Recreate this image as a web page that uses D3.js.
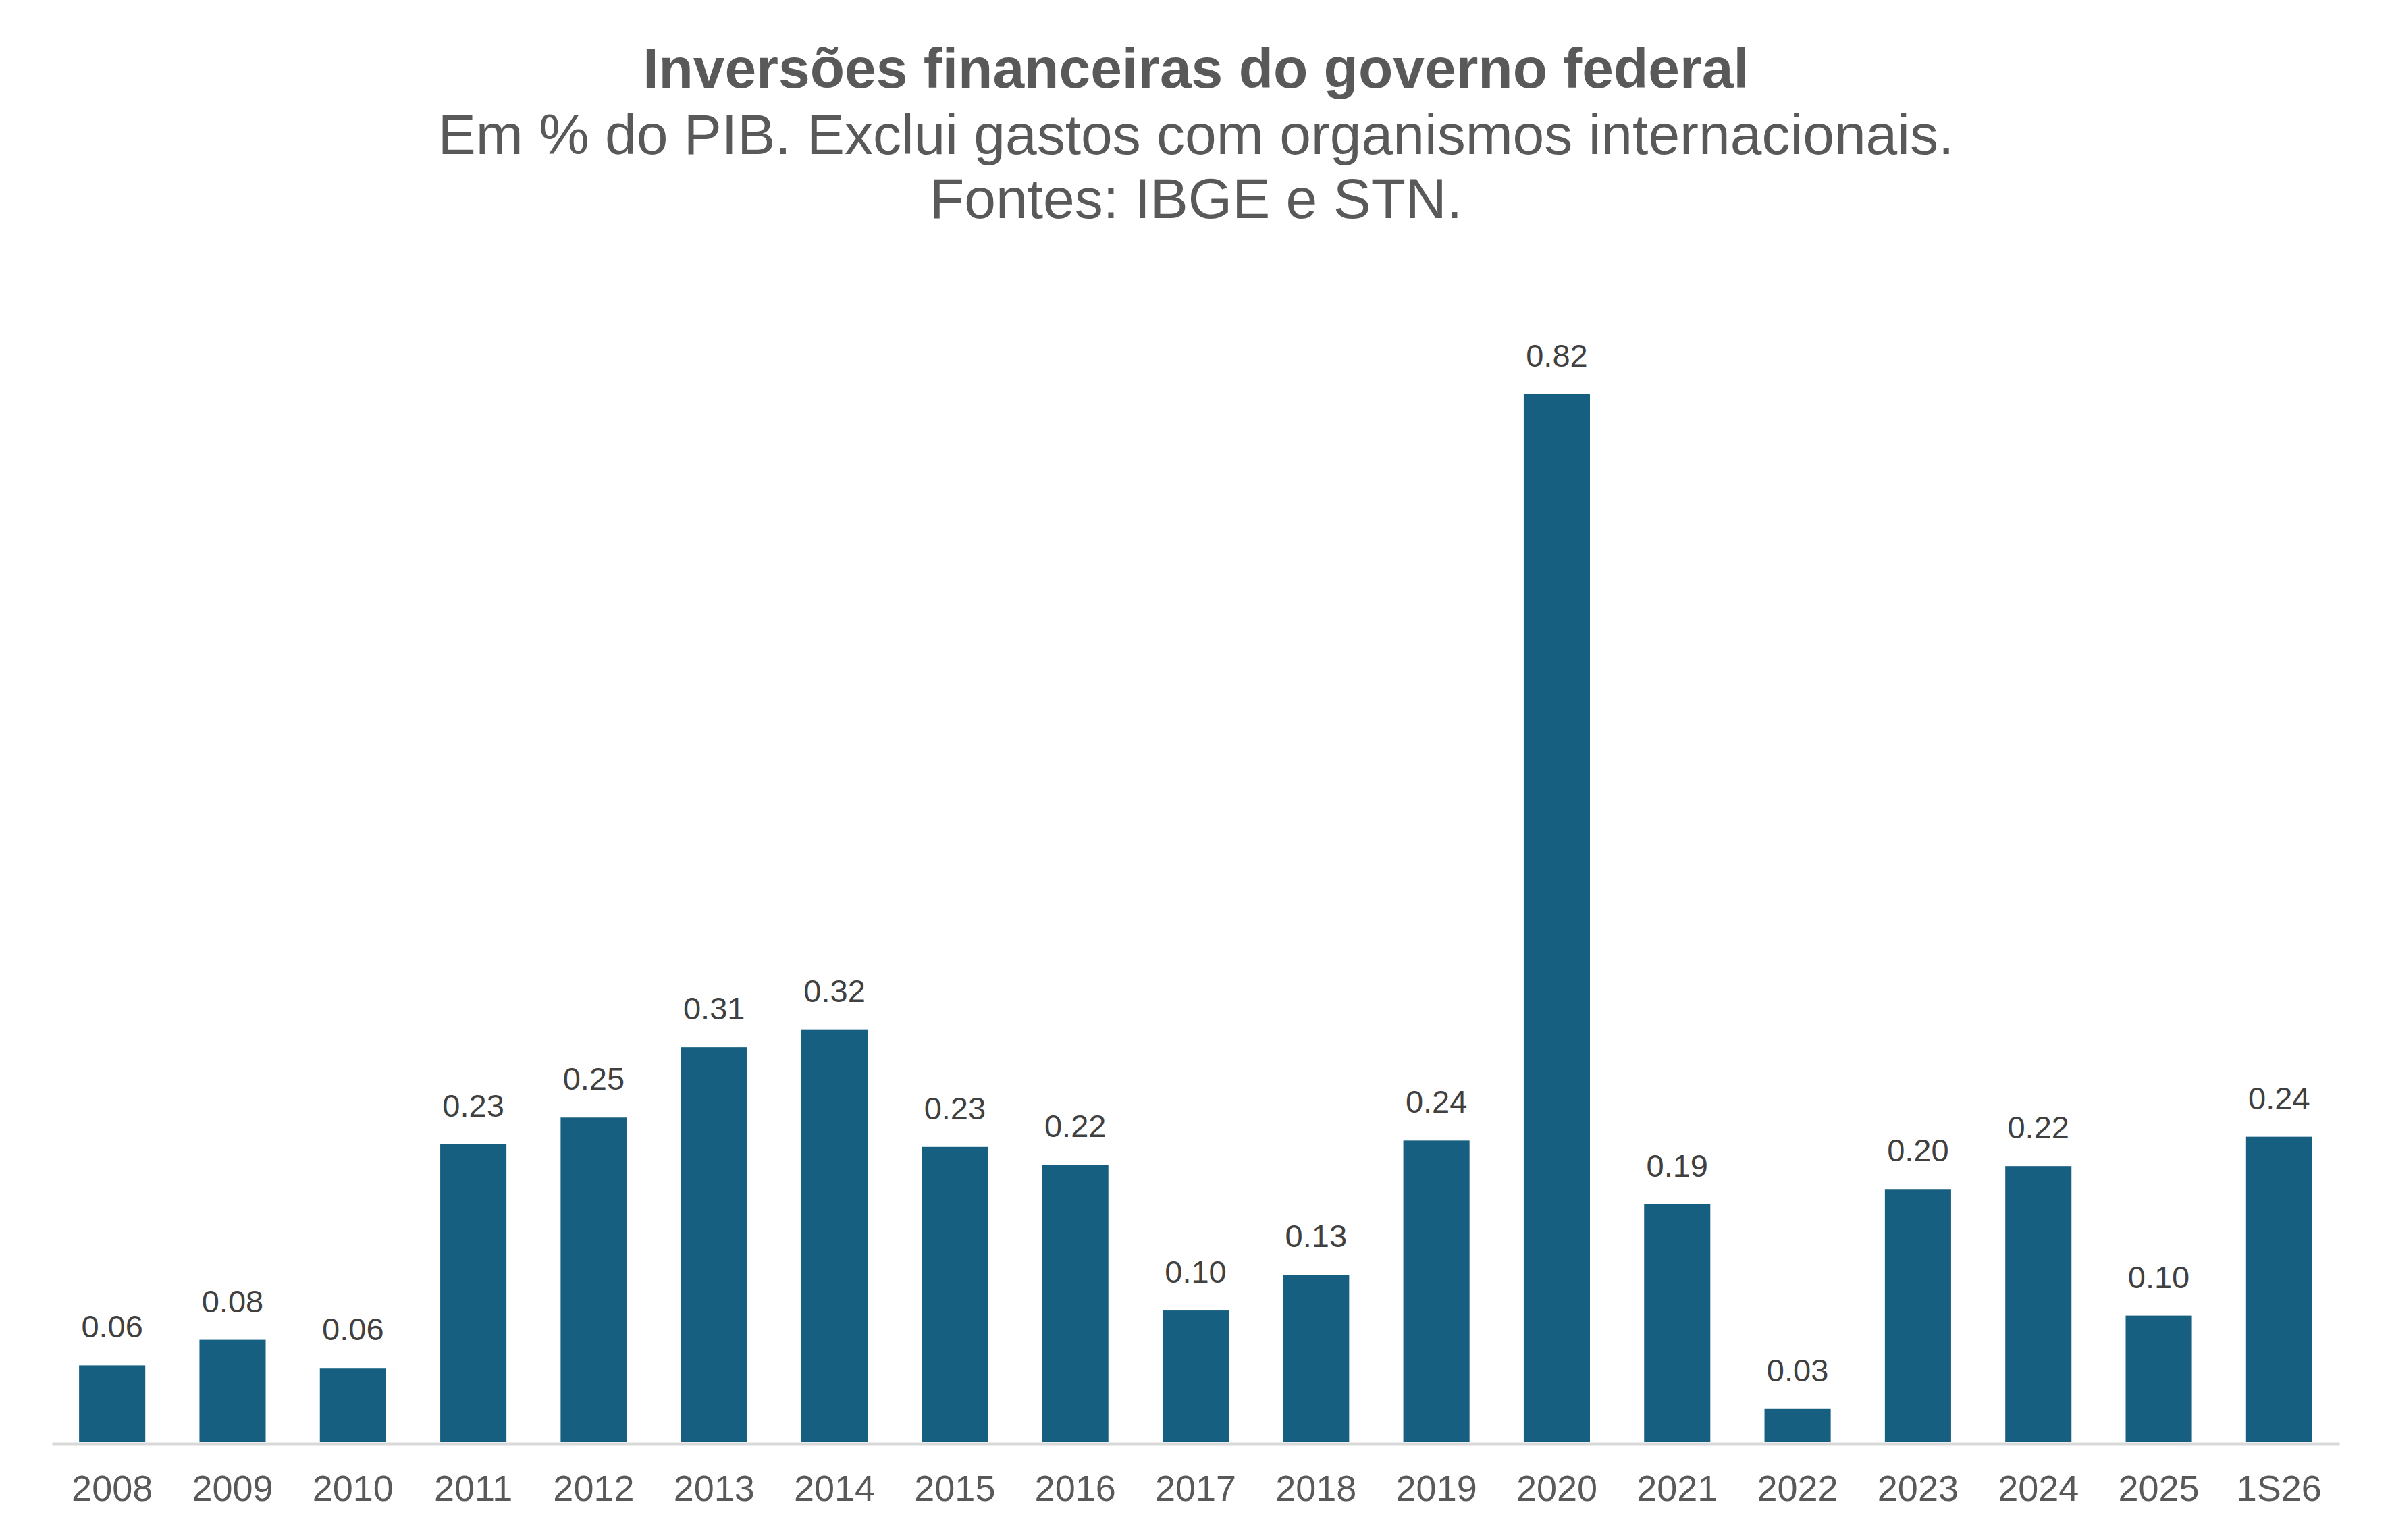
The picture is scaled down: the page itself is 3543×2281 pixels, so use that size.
<!DOCTYPE html>
<html>
<head>
<meta charset="utf-8">
<script src="https://cdn.jsdelivr.net/npm/d3@7"></script>
<style>
  html, body { margin: 0; padding: 0; background: #ffffff; }
  svg { display: block; }
  text { font-family: "Liberation Sans", Arial, sans-serif; }
</style>
</head>
<body>
<svg id="chart" width="3543" height="2281"></svg>
<script>
const categories = ["2008","2009","2010","2011","2012","2013","2014","2015","2016","2017","2018","2019","2020","2021","2022","2023","2024","2025","1S26"];
const values = [0.060,0.080,0.058,0.233,0.254,0.309,0.323,0.231,0.217,0.103,0.131,0.236,0.820,0.186,0.026,0.198,0.216,0.099,0.239];
const titleText = "Inversões financeiras do governo federal";
const subtitleLines = ["Em % do PIB. Exclui gastos com organismos internacionais.", "Fontes: IBGE e STN."];

const W = 3543, H = 2281;
const svg = d3.select("#chart");
svg.append("rect").attr("width", W).attr("height", H).attr("fill", "#ffffff");

const x = d3.scaleBand().domain(categories).range([77, 3465]).paddingInner(0.45).paddingOuter(0.225);
const y = d3.scaleLinear().domain([0, 0.82]).range([2136, 584]);

const data = categories.map((c, i) => ({ c, v: values[i] }));

// bars
svg.append("g").selectAll("rect").data(data).join("rect")
  .attr("x", d => x(d.c))
  .attr("y", d => y(d.v))
  .attr("width", x.bandwidth())
  .attr("height", d => y(0) - y(d.v))
  .attr("fill", "#175f80");

// axis
const xAxis = d3.axisBottom(x).tickSize(0).tickPadding(0);
const gx = svg.append("g").attr("transform", `translate(0,${y(0) + 2.5})`).call(xAxis);
gx.select(".domain").attr("stroke", "#d9d9d9").attr("stroke-width", 5);
gx.selectAll(".tick text")
  .attr("y", 84.5)
  .attr("dy", 0)
  .attr("fill", "#595959")
  .style("font-size", "54px")
  .style("font-family", "'Liberation Sans', Arial, sans-serif");

// data labels
svg.append("g").selectAll("text").data(data).join("text")
  .attr("x", d => x(d.c) + x.bandwidth() / 2)
  .attr("y", d => y(d.v) - 41)
  .attr("text-anchor", "middle")
  .attr("fill", "#404040")
  .style("font-size", "47px")
  .text(d => d3.format(".2f")(d.v));

// title
svg.append("text")
  .attr("x", W / 2).attr("y", 130)
  .attr("text-anchor", "middle")
  .attr("fill", "#595959")
  .style("font-size", "84px").style("font-weight", "bold")
  .text(titleText);

svg.append("g").selectAll("text").data(subtitleLines).join("text")
  .attr("x", W / 2)
  .attr("y", (d, i) => 228 + i * 95)
  .attr("text-anchor", "middle")
  .attr("fill", "#595959")
  .style("font-size", "84px")
  .text(d => d);
</script>
</body>
</html>
